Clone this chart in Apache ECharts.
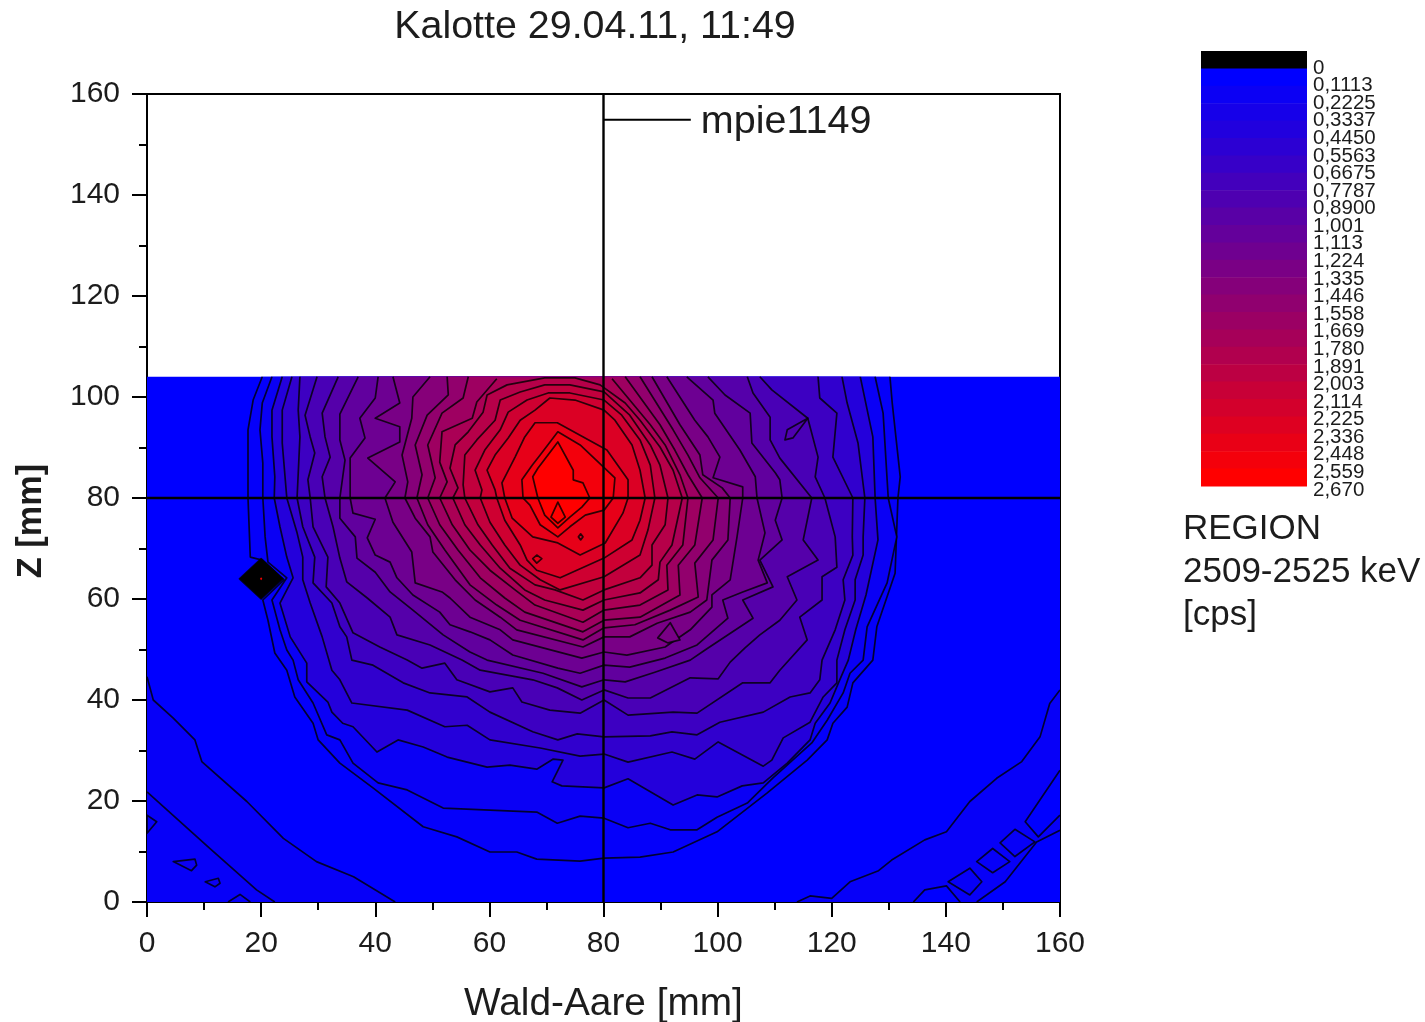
<!DOCTYPE html>
<html><head><meta charset="utf-8">
<style>html,body{margin:0;padding:0;background:#fff}#c{width:1425px;height:1022px}</style>
<script src="https://cdn.jsdelivr.net/npm/echarts@6/dist/echarts.min.js"></script>
</head><body><div id="c"></div><script>
const legendLabels=["0","0,1113","0,2225","0,3337","0,4450","0,5563","0,6675","0,7787","0,8900","1,001","1,113","1,224","1,335","1,446","1,558","1,669","1,780","1,891","2,003","2,114","2,225","2,336","2,448","2,559","2,670"];
const crossX=80, crossY=80;
const contourA=[[20.2,104],[18.6,99.4],[17.7,93.5],[17.7,80],[18.1,68.3],[20.2,67.7],[24,63.8],[20.3,59.8],[21.2,55.8],[22.4,49.3],[24.5,45.9],[25.9,40.6],[29.1,35.4],[30,32.1],[33.8,27.5],[39.6,22.6],[48.4,14.9],[54.3,12.9],[60.1,9.9],[64.8,9.9],[68.3,8.5],[75.9,8.1],[80.1,8.7],[86.4,8.9],[92.2,9.9],[99.9,13.9],[108.7,21.6],[115.7,28.1],[119.2,32.1],[120.2,35.4],[122.7,38.6],[123.7,43.4],[127.2,47.9],[127.9,54.5],[131.1,65.1],[131.6,80],[132,84.2],[130.6,98.8],[130.2,104]];
const contourB=[[21.9,104],[20.2,98.8],[19.8,93.5],[20.3,86.9],[20.3,80],[20.7,72.3],[21.2,67.3],[24.5,64.2],[21.9,59.8],[23.3,53.9],[24.5,49.9],[25.6,47.9],[26.5,44],[29.1,39.4],[31.5,33.1],[33.8,32.1],[36.1,27.5],[40.5,23.6],[45.6,22.2],[51.9,18.6],[68.3,17.8],[71.9,15.6],[75.9,17],[80.1,16.6],[84.3,14.7],[88.2,15.6],[91.7,14.3],[96.4,14.3],[99.9,16.8],[105.2,19.6],[109.7,24.6],[116.5,31.5],[119.2,36],[122,41.4],[123.2,45.3],[125.5,47.9],[126.2,54.5],[129.7,63.2],[131.4,72.3],[129.9,80],[129,96.8],[127.6,104]];
const contourC=[[23.7,104],[21.9,97.4],[21.9,92.1],[22.4,84.2],[22.3,80],[23.3,74.3],[24.5,68.3],[25.6,64.2],[23.3,59.2],[25.1,52.5],[28,47.3],[28,43.6],[31.7,39.6],[32.4,37.6],[34.3,35.4],[36.1,34.7],[40.3,29.7],[44,32.1],[48.4,30.7],[52.6,28.7],[59.6,26.7],[63.6,27.1],[68.3,26.3],[71.2,28.3],[72.9,28.1],[71,23.8],[72.7,23],[80.1,22.6],[84.3,24.4],[92.2,19.2],[96.4,21.2],[99.9,20.8],[104.3,23],[108,23.6],[112.2,27.5],[116.2,32.1],[117.1,35.4],[119.7,39.4],[121.4,44],[122.9,47.9],[124.2,53.9],[126,60.8],[128.1,71.7],[127.6,80],[127.2,92.1],[125,104]];
const contourD=[[25.4,104],[23.7,97.4],[23.7,90.9],[24.5,80],[26.3,73.1],[27.3,68.3],[27.3,63.8],[28.6,59.2],[30.7,52.5],[32.4,45.9],[33.8,44],[35.9,39.4],[45.6,38],[52.2,34.7],[56.1,35],[60.1,32.1],[68.9,30.5],[75.9,28.9],[80.1,29.3],[84.3,27.7],[92,29.7],[96,28.3],[100.1,31.7],[108,26.9],[109.5,28.1],[111.5,32.5],[116.2,35.6],[118.5,40.6],[120.9,43.4],[120.9,47.9],[122.3,53.9],[124.1,59.8],[124.1,63.8],[125.5,68.7],[125.5,72.3],[125.8,80],[124.6,90.9],[122.7,98.8],[121.8,104]];
const contourE=[[26.8,104],[26.5,97.4],[26.8,92.1],[26.3,80],[27.3,74.3],[29.4,68.3],[29.1,63.2],[32.4,59.2],[33.8,54.5],[35,52.5],[35.9,47.9],[39.6,46.9],[44.9,43.4],[49.6,41.4],[56.1,40.6],[60.1,37.6],[67.6,33.7],[72,32.1],[75.4,33.3],[80.1,32.7],[88.2,32.9],[92,33.7],[96.4,33.1],[100.4,35.6],[108,37.6],[112.7,40.6],[116.2,41.4],[117.9,44],[118.3,47.9],[120.6,53.9],[122.3,59.8],[122,63.8],[123.7,68.7],[123.6,72.3],[123.7,80],[120.2,88.1],[120.9,96.8],[117.9,99.8],[117.6,104]];
const contourF=[[29.8,104],[27.7,96.4],[28.6,92.1],[29.4,88.9],[28.2,83.6],[28.6,80],[29.1,74.3],[31.7,68.3],[31.4,62.4],[33.8,59.2],[36.1,53.3],[40.8,50.5],[45.6,47.9],[48.2,46.3],[52.2,47.3],[54.3,44],[60.1,41.6],[64.1,42.4],[65.7,39.6],[70.6,38],[75.9,37.4],[80.1,40],[84.3,37],[92.2,37.6],[96.4,37.4],[104.4,43.4],[109.2,43.4],[110.9,45.9],[115.7,51.9],[114.4,56.4],[118.3,59.8],[118.3,64.4],[120.9,66.3],[120.6,72.3],[118.8,80],[117.1,84.2],[117.6,88.1],[115.8,95.8],[109.5,101.4],[107.4,104]];
const contourG=[[33.5,104],[30.7,96.8],[31.2,92.1],[32.1,88.1],[30.7,84.2],[31.2,80],[32.6,74.3],[33.8,68.1],[35,63.4],[38.6,60.2],[42.6,56.4],[43.8,52.9],[49.6,50.9],[55.2,47.9],[58.4,45.9],[67.6,44],[71.9,42.4],[76.2,40],[80.1,42],[84.3,40.4],[88.2,40.4],[95.2,44.4],[100.1,44.2],[102.2,47.5],[104.8,50.3],[107.4,52.9],[110.9,55.8],[113.9,59.8],[112.2,64.4],[117.6,67.7],[115,71.7],[116.5,80],[110.9,87.9],[109.2,91.5],[109.2,96],[106.2,100.8],[105.2,104]];
const contourH=[[37,104],[33.8,96.6],[33.8,91.5],[34.7,87.5],[33.8,80],[33.8,76],[36.5,72.3],[36.8,68.1],[40,65.3],[42.6,61.4],[46.6,57.8],[51.9,52.9],[56.6,49.5],[59.6,47.9],[69.4,45.3],[76.2,42.6],[80.1,44],[83.8,43.6],[89,45.5],[95.2,47.9],[97.8,49.9],[106.2,56.2],[104.4,59.8],[109.7,62.4],[107.4,67.7],[111.3,71.7],[110.1,75.6],[111.3,80],[110.9,83.6],[110.1,85],[106,90.9],[105.7,96.8],[101.3,100.4],[98.3,104]];
const contourI=[[40.5,104],[40,99.8],[37.3,95.8],[38.2,91.9],[35.6,87.9],[35.6,80],[36.1,77],[40,75.8],[38.6,72.1],[40,68.7],[42.6,67.3],[43.8,64.2],[46.6,60.8],[51.3,57.4],[53.1,54.9],[56.6,53.5],[60.1,51.9],[64.1,48.9],[72,46.3],[75.9,45.3],[80.1,46.9],[84.6,46.5],[90.8,48.3],[96.4,50.9],[101.8,56.2],[100.9,59.8],[104.4,61.4],[108.7,63.2],[107.1,67.7],[108.3,73.1],[106.9,80],[106.6,84.2],[103.9,89.5],[99.5,96.8],[99.2,99.4],[94.6,104]];
const contourJ=[[43.1,104],[44.3,98.8],[40,95.8],[44.3,94.1],[44.3,91.1],[38.7,87.9],[43.5,83.2],[41.7,80],[43.1,75.2],[46.4,69.3],[47,63.2],[51.7,61.4],[53.1,60.2],[56.6,56.4],[61.9,53.9],[64.1,51.9],[76.2,48.3],[80.1,49.5],[84.1,48.9],[90.8,50.5],[95.2,53.9],[99,58.4],[99,60.8],[102.2,63.8],[103.4,72.3],[104.4,80],[104.4,82.2],[99.2,84],[100.4,88.1],[98.3,92.1],[96,95.4],[91.1,104]];
const contourK=[[49.6,104],[46.6,100],[46.4,95.8],[44.7,88.5],[45.7,83.2],[45.2,80],[47,76],[49.6,72.3],[50.1,69.3],[54,63.8],[57.5,59.8],[61.9,56.4],[64.8,53.9],[76.4,50.5],[80.1,52.5],[84.6,52.5],[89.4,55.2],[95.2,57.4],[98.1,59.8],[99,67.7],[101.8,71.7],[102.2,80],[100.8,82],[97.4,84.6],[96.9,88.5],[93.4,94.5],[88.5,104]];
const contourL=[[52.6,104],[52.8,100.4],[49.1,96.4],[47,90.5],[48.2,84.6],[47.3,80],[49.2,74.7],[52.2,69.7],[56.6,62.8],[61.3,58.8],[65.4,55.8],[76.4,51.9],[80.1,54.3],[85.5,54.9],[91.7,57.8],[96.6,60.4],[96,67.1],[99.2,71.7],[100.1,80],[96.9,84],[94.8,88.5],[92.2,93.5],[86.4,104]];
const contourM=[[56.3,104],[55.4,99.8],[51.7,96.8],[49.2,90.5],[50.5,84],[49.2,80],[51.3,74.7],[54.5,69.7],[58.4,64.2],[62.7,60.2],[66.2,57.4],[76.4,53.5],[80.1,55.8],[86.4,56.4],[93.4,60.8],[93.1,66.7],[96,70.7],[97.3,80],[94.8,84.6],[92.5,89.5],[89.9,94.5],[83.8,104]];
const contourN=[[61.3,103.6],[57.8,99],[57,95.8],[51.7,93.1],[51.3,87.1],[52.6,83.2],[51.3,80],[53.5,74.7],[56.6,69.7],[60.1,65.7],[64.5,61.8],[68,58.8],[76.4,55.4],[80.1,57.8],[86.4,58.8],[91.3,61.8],[91.1,66.7],[93.9,70.7],[94.8,80],[93.4,84.6],[90.8,90.5],[88.2,94.5],[81.5,103.6]];
const contourO=[[63.1,102.4],[59.6,100.4],[58.9,97],[56.3,93.1],[54,90.5],[53.1,85.9],[54.5,82],[53.6,80],[55.7,74.7],[58.4,70.7],[61.9,66.1],[66.2,61.8],[69.7,59.8],[76.4,57.8],[80.1,59.8],[86.4,61.2],[89.6,63.8],[89.9,67.3],[92,70.7],[93.8,80],[92.2,85.5],[89.9,90.1],[86.4,95.4],[83.8,98.8],[79.4,102.4],[75,103.8],[69.7,103.8]];
const contourP=[[65.4,101],[61.9,99.4],[61,95.4],[57.8,91.5],[55.7,88.5],[55.4,82.6],[55.7,80],[58,74.7],[60.5,70.7],[63.6,66.1],[68,62.8],[71.5,61.8],[76.4,59.8],[80.1,61.8],[86.4,64.2],[88.5,66.7],[88.5,70.7],[90.8,74.7],[91.3,80],[89.9,86.5],[88.2,90.5],[84.6,96.4],[80.1,101],[74.1,102.4],[69.7,102.4]];
const contourQ=[[66.6,99.4],[63.3,97],[61.9,93.5],[59.2,89.5],[57.5,85.5],[58.7,81.6],[58.4,80],[60.1,75.2],[62.7,70.7],[65.4,66.7],[68.9,63.8],[72.4,61.8],[80.1,64.4],[86.4,68.7],[87.8,73.7],[89,80],[88.2,86.5],[86.4,91.5],[83.2,96.4],[80.1,99.4],[74.1,100.8],[70.3,100.8]];
const contourR=[[68,97.4],[65.4,95.4],[63.3,91.9],[61,88.5],[59.6,85.5],[61,81.6],[61.3,80],[62.7,75.6],[65.4,70.7],[66.6,67.7],[68.3,65.7],[72.4,64.2],[80.1,68.1],[85,71.7],[86.4,75.6],[87.3,80],[86.4,85.5],[85,90.5],[82,95.4],[80.1,97.4],[75,99.4],[70.6,99.8]];
const contourS=[[68,94.9],[71.9,94.9],[80.6,89.5],[84.3,83.6],[84.3,80],[83.4,77],[80.3,71.1],[75.9,68.7],[72,71.1],[67.6,72.3],[64,76],[62.7,80],[62.2,83],[64.5,88.1],[66.2,92.1]];
const contourT=[[72,93.1],[75.9,90.5],[82,84],[81.7,80],[80.1,77.6],[76.8,76.6],[74.1,74.3],[72,72.3],[68.9,74.7],[67.1,78.6],[65.9,80],[65.7,83.6],[67.5,86.5],[68.9,88.5]];
const contourU=[[72,91.1],[74.7,85.5],[74.7,83.6],[76.4,83],[77.6,80],[76.2,78.2],[74.1,76.2],[72,74.1],[69.7,76.6],[68.5,80],[67.6,84.2],[68.5,85.9]];
const contourV=[[72,79.2],[73.3,76.2],[72,75],[70.8,76.2]];
const islandRing=[[67.6,68],[68.3,68.7],[69.2,68],[68.3,67.1]];
const islandDot=[[75.6,72.3],[76,72.9],[76.4,72.3],[76,71.7]];
const islandTri=[[91.7,55.3],[93.4,51.9],[91.3,51.3],[89.5,52.3]];
const islandLeaf=[[115.8,95.8],[112.2,93.5],[111.8,91.5],[113.2,91.9]];
const blackDiamond=[[16.2,64],[20,68],[23.8,64],[20,60]];
const redCentre=[[19.8,64],[20,64.3],[20.2,64],[20,63.7]];
const measuredArea=[[0,0],[160,0],[160,104],[0,104]];
const cornerBL1=[[0,44.6],[1.1,40],[4.6,36.4],[8.4,32.1],[9.6,27.8],[17.5,19.9],[23.9,12.6],[29.7,8],[36.2,5],[43.5,0]];
const cornerBL2=[[0,21.8],[11,10.6],[19.2,2.4],[22.4,0]];
const islandBL1=[[0,17.2],[1.7,15.9],[0,13.6]];
const islandBL2=[[4.6,8],[8.4,8.5],[8.7,7.3],[7.8,6.2]];
const islandBL3=[[10.2,4],[12.5,4.7],[12.8,3.7],[11.9,3]];
const islandBL4=[[14.2,0],[16.3,1.5],[18.1,0]];
const cornerBR1=[[113.9,0],[116.2,1.2],[120,0.7],[123.2,4],[128.2,6.2],[130.5,8.3],[136.3,12.3],[140.1,13.9],[144.2,19.9],[148.9,24.5],[153.3,27.8],[156.5,32.7],[158.2,39.3],[160,42]];
const cornerBR2=[[160,26.1],[153.9,15.9],[156.2,12.9],[160,17.2]];
const cornerBR3=[[145.4,0],[150.4,4],[155.9,11.9],[160,14.2]];
const cornerBR4=[[134.3,0],[136.3,2.4],[140.1,3.2],[142.5,0]];
const squareBR1=[[140.4,4],[144.2,6.7],[146.3,4],[144.2,1.4]];
const squareBR2=[[145.4,8],[148.2,10.6],[151.2,8],[148.2,5.8]];
const squareBR3=[[149.5,11.7],[152.1,14.4],[155.6,11.9],[152.1,9]];

function col(t){t=Math.max(0,Math.min(1,t));return 'rgb('+Math.round(255*t)+',0,'+Math.round(255*(1-t))+')';}
const N=21;
const shapes=[{p:measuredArea,l:0,noStroke:1}];
shapes.push({p:cornerBL1,l:0.6,extra:[[0,0]]},{p:cornerBL2,l:1,lineOnly:1},{p:islandBL1,l:1,lineOnly:1,closed:1},{p:islandBL2,l:1,closed:1},{p:islandBL3,l:1,closed:1},{p:islandBL4,l:1,lineOnly:1});
shapes.push({p:cornerBR1,l:0.6,extra:[[160,0]]},{p:cornerBR3,l:0,extra:[[160,0]]},{p:cornerBR2,l:0},{p:cornerBR4,l:0},{p:squareBR1,l:0.6,closed:1},{p:squareBR2,l:0.6,closed:1},{p:squareBR3,l:0.6,closed:1});
[contourA,contourB,contourC,contourD,contourE,contourF,contourG,contourH,contourI,contourJ,contourK,contourL,contourM,contourN,contourO,contourP,contourQ,contourR,contourS,contourT,contourU].forEach((c,i)=>{
  shapes.push({p:c,l:i===0?0.4:i===1?0.8:i+1,closed:i>=14});
});
shapes.push({p:contourV,l:N,closed:1},{p:islandRing,l:19,closed:1},{p:islandDot,l:18,closed:1},{p:islandTri,l:10,closed:1},{p:islandLeaf,l:6.5,closed:1});
shapes.push({p:blackDiamond,black:1,closed:1},{p:redCentre,red:1,noStroke:1});

const LINE='rgba(0,0,0,0.8)';
function renderContour(params,api){
  const s=shapes[api.value(0)];
  const fill=s.black?'#000':s.red?'#f00':col(s.l/N);
  const pts=s.p.map(q=>api.coord(q));
  const ext=s.extra?s.extra.map(q=>api.coord(q)):[];
  const kids=[];
  if(!s.lineOnly) kids.push({type:'polygon',shape:{points:pts.concat(ext)},style:{fill:fill}});
  if(!s.noStroke){
    const st={fill:'none',stroke:LINE,lineWidth:1.7,lineJoin:'round'};
    kids.push(s.closed?{type:'polygon',shape:{points:pts},style:st}:{type:'polyline',shape:{points:pts},style:st});
  }
  return {type:'group',children:kids};
}
const legendCols=[];
for(let i=-1;i<24;i++) legendCols.push(i);
function renderLegend(params,api){
  const i=api.value(0);
  const a=api.coord([0,i]),b=api.coord([1,i+1]);
  const color=i<0?'#000':col(i/23);
  return {type:'rect',shape:{x:a[0],y:a[1],width:b[0]-a[0],height:b[1]-a[1]+0.6},style:{fill:color}};
}
const FONT='"Liberation Sans",Arial,sans-serif', INK='#1c1c1c';
const chart=echarts.init(document.getElementById('c'),null,{renderer:'canvas'});
chart.setOption({
  animation:false,
  textStyle:{fontFamily:FONT,color:INK},
  title:{text:'Kalotte 29.04.11, 11:49',left:595,top:8,padding:0,textAlign:'center',textStyle:{fontFamily:FONT,fontSize:39.4,fontWeight:'normal',color:INK}},
  grid:[
    {left:147,top:94,width:913,height:808,show:true,backgroundColor:'#fff',borderColor:'#000',borderWidth:2,outerBoundsMode:'none',z:1},
    {left:1201,top:51,width:106,height:435,outerBoundsMode:'none'},
    {left:1200,top:50.42,width:107,height:457.16,outerBoundsMode:'none'}
  ],
  xAxis:[
    {gridIndex:0,type:'value',min:0,max:160,interval:20,name:'Wald-Aare [mm]',nameLocation:'middle',nameGap:83,
     nameTextStyle:{fontFamily:FONT,fontSize:38.8,color:INK},
     axisLine:{onZero:false,lineStyle:{color:'#000',width:2}},axisTick:{length:15,lineStyle:{color:'#000',width:2}},
     minorTick:{show:true,splitNumber:2,length:8,lineStyle:{color:'#000',width:2}},splitLine:{show:false},
     axisLabel:{fontFamily:FONT,fontSize:30,color:INK,margin:27}},
    {gridIndex:1,type:'value',min:0,max:1,show:false},
    {gridIndex:2,type:'value',min:0,max:1,show:false}
  ],
  yAxis:[
    {gridIndex:0,type:'value',min:0,max:160,interval:20,name:'Z [mm]',nameLocation:'middle',nameGap:98,nameRotate:90,
     nameTextStyle:{fontFamily:FONT,fontSize:34.3,fontWeight:'bold',color:INK,padding:[0,46,0,0]},
     axisLine:{onZero:false,lineStyle:{color:'#000',width:2}},axisTick:{length:15,lineStyle:{color:'#000',width:2}},
     minorTick:{show:true,splitNumber:2,length:8,lineStyle:{color:'#000',width:2}},splitLine:{show:false},
     axisLabel:{fontFamily:FONT,fontSize:30,color:INK,margin:27}},
    {gridIndex:1,type:'value',min:-1,max:24,inverse:true,show:false},
    {gridIndex:2,type:'value',min:-1,max:25,interval:1,inverse:true,position:'right',
     axisLine:{show:false},axisTick:{show:false},splitLine:{show:false},
     axisLabel:{fontFamily:FONT,fontSize:20.5,lineHeight:12,color:INK,margin:6,hideOverlap:false,
       formatter:v=>legendLabels[v]||''}}
  ],
  graphic:[
    {type:'text',left:1183,top:512,style:{text:'REGION',font:'35px '+FONT,fill:INK}},
    {type:'text',left:1183,top:555,style:{text:'2509-2525 keV',font:'35px '+FONT,fill:INK}},
    {type:'text',left:1183,top:598,style:{text:'[cps]',font:'35px '+FONT,fill:INK}}
  ],
  series:[
    {type:'custom',xAxisIndex:0,yAxisIndex:0,coordinateSystem:'cartesian2d',clip:true,silent:true,z:2,
     renderItem:renderContour,data:shapes.map((s,i)=>[i]),encode:{x:0}},
    {type:'line',xAxisIndex:0,yAxisIndex:0,z:5,silent:true,symbol:'none',lineStyle:{color:'#000',width:2.4},data:[[crossX,0],[crossX,160]]},
    {type:'line',xAxisIndex:0,yAxisIndex:0,z:5,silent:true,symbol:'none',lineStyle:{color:'#000',width:2.4},data:[[0,crossY],[160,crossY]]},
    {type:'line',xAxisIndex:0,yAxisIndex:0,z:5,silent:true,symbol:'none',lineStyle:{color:'#000',width:2},
     endLabel:{show:true,formatter:'mpie1149',distance:10,offset:[0,2],fontFamily:FONT,fontSize:39.5,color:INK},
     data:[[crossX,154.9],[95.3,154.9]]},
    {type:'custom',xAxisIndex:1,yAxisIndex:1,coordinateSystem:'cartesian2d',clip:false,silent:true,z:2,
     renderItem:renderLegend,data:legendCols.map(i=>[i]),encode:{y:0}}
  ]
});
</script></body></html>
